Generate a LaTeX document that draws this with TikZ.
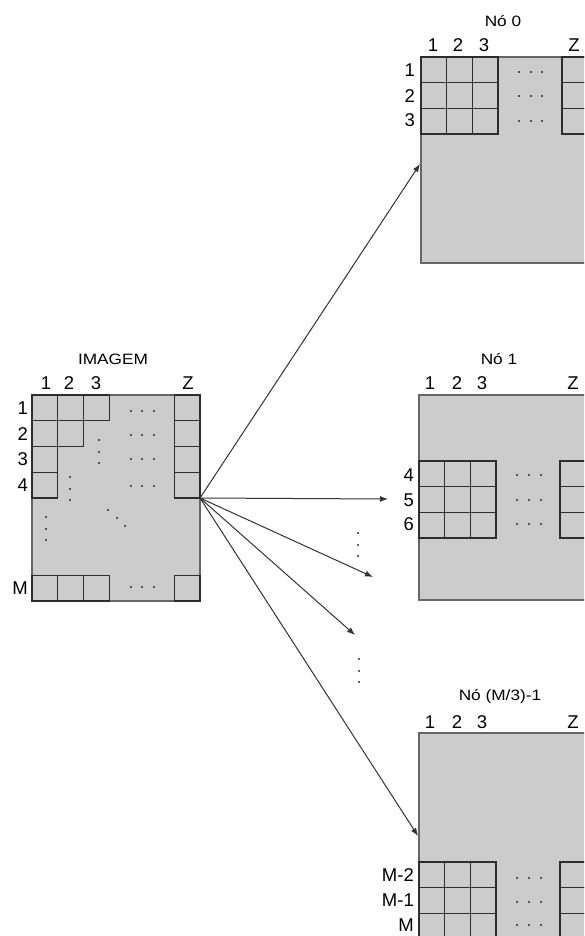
\documentclass[tikz,border=0pt]{standalone}
\usepackage{fontspec}
\setmainfont{Liberation Sans}
\usepackage{graphicx}
\usetikzlibrary{arrows.meta}
\definecolor{boxgray}{RGB}{204,204,204}
\definecolor{linegray}{RGB}{45,45,45}
\newcommand{\wide}[1]{\scalebox{1.15}[1]{#1}}

\begin{document}
\begin{tikzpicture}[x=1pt,y=-1pt,
  sheet/.style={draw=black!60,fill=boxgray,line width=1.2pt},
  cell/.style={draw=linegray,line width=1.4pt},
  lbl/.style={font=\fontsize{18.5}{18.5}\selectfont,inner sep=0pt},
  ttl/.style={font=\fontsize{15}{15}\selectfont,inner sep=0pt},
  arr/.style={-{Latex[length=8pt,width=6pt]},draw=black!80,line width=1pt}]
\clip (0,0) rectangle (584,936);
\fill[white] (0,0) rectangle (584,936);
% imagem
\draw[sheet] (32,395) rectangle (200,601);
\foreach \x/\y in {32/395,57.75/395,83.5/395,32/420.75,57.75/420.75,32/446.5,32/472.25,
  174.25/395,174.25/420.75,174.25/446.5,174.25/472.25,32/575.25,57.75/575.25,83.5/575.25,174.25/575.25}
  \draw[cell] (\x,\y) rectangle ++(25.75,25.75);
\foreach \y in {411,435,459,486,587} \foreach \x in {131,142,154} \fill[linegray] (\x,\y) circle (1.1pt);
\foreach \x/\y in {99/440,99/452,99/463,70/477,70/489,70/500,46/517,46/529,46/540,108/510,117/518,125/526}
  \fill[linegray] (\x,\y) circle (1.1pt);
\node[ttl] (tImg) at (113,359) {\wide{IMAGEM}};
\foreach \n/\x in {1/46,2/69,3/96,Z/188} \node[lbl] (cI\n) at (\x,383) {\n};
\foreach \n/\y in {1/408,2/434,3/459,4/485,M/588} \node[lbl,anchor=east] (rI\n) at (28,\y) {\n};
% no 0
\draw[sheet] (421,57) rectangle (600,263);
\foreach \y in {57,82.67,108.33} {
  \foreach \x in {421,446.67,472.33} \draw[cell] (\x,\y) rectangle ++(25.67,25.67);
  \draw[cell] (562,\y) rectangle ++(25.67,25.67);
}
\foreach \y in {72,96,121} \foreach \x in {519,531,542} \fill[linegray] (\x,\y) circle (1.1pt);
\node[ttl] (tA) at (503,21) {\wide{Nó 0}};
\foreach \n/\x in {1/433,2/458,3/484,Z/574} \node[lbl] (cA\n) at (\x,45) {\n};
\foreach \n/\y in {1/70,2/96,3/120} \node[lbl,anchor=east] (rA\n) at (415,\y) {\n};
% no 1
\draw[sheet] (419,395) rectangle (600,600);
\foreach \y in {461,486.67,512.33} {
  \foreach \x in {419,444.67,470.33} \draw[cell] (\x,\y) rectangle ++(25.67,25.67);
  \draw[cell] (560,\y) rectangle ++(25.67,25.67);
}
\foreach \y in {475,500,524} \foreach \x in {517,529,541} \fill[linegray] (\x,\y) circle (1.1pt);
\node[ttl] (tB) at (499,359) {\wide{Nó 1}};
\foreach \n/\x in {1/430,2/457,3/482,Z/573} \node[lbl] (cB\n) at (\x,383) {\n};
\foreach \n/\y in {4/475,5/500,6/524} \node[lbl,anchor=east] (rB\n) at (414,\y) {\n};
% no (M/3)-1
\draw[sheet] (419,733) rectangle (600,960);
\foreach \y in {862,887.67,913.33} {
  \foreach \x in {419,444.67,470.33} \draw[cell] (\x,\y) rectangle ++(25.67,25.67);
  \draw[cell] (560,\y) rectangle ++(25.67,25.67);
}
\foreach \y in {878,902,925} \foreach \x in {517,529,541} \fill[linegray] (\x,\y) circle (1.1pt);
\node[ttl] (tC) at (500,697) {\wide{Nó (M/3)-1}};
\foreach \n/\x in {1/430,2/457,3/482,Z/573} \node[lbl] (cC\n) at (\x,722) {\n};
\foreach \n/\y in {M-2/875,M-1/900,M/925} \node[lbl,anchor=east] (rC\n) at (414,\y) {\n};
% setas
\coordinate (src) at (200,498);
\coordinate (eA) at (420,164);
\coordinate (eB) at (388,499);
\coordinate (eX) at (373,577);
\coordinate (eY) at (355,635);
\coordinate (eC) at (418,836);
\foreach \e in {eA,eB,eX,eY,eC} \draw[arr] (src) -- (\e);
\foreach \y in {533,545,556} \fill[linegray] (358,\y) circle (1.1pt);
\foreach \y in {659,671,682} \fill[linegray] (359,\y) circle (1.1pt);
\end{tikzpicture}
\end{document}
